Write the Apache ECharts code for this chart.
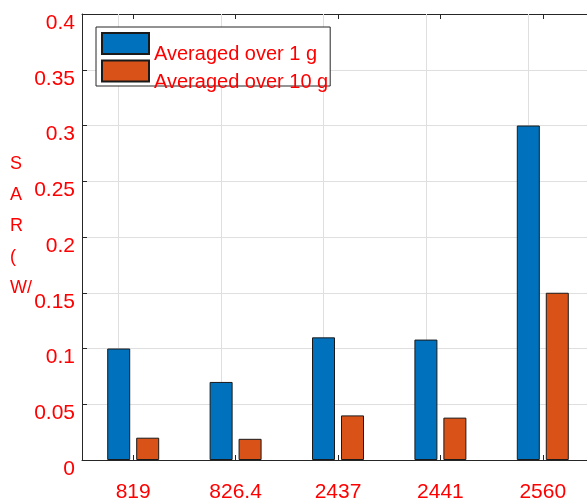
<!DOCTYPE html>
<html><head><meta charset="utf-8">
<script src="https://cdn.jsdelivr.net/npm/echarts@6/dist/echarts.min.js"></script>
<style>html,body{margin:0;padding:0;background:#fff}#c{width:587px;height:500px}</style>
</head><body><div id="c"></div>
<script>
const categories = ['819', '826.4', '2437', '2441', '2560'];
const sar1g = [0.100, 0.070, 0.110, 0.108, 0.300];
const sar10g = [0.020, 0.019, 0.040, 0.038, 0.150];
const seriesNames = ['Averaged over 1 g', 'Averaged over 10 g'];
const yMin = 0, yMax = 0.4, yStep = 0.05;
const yAxisTitle = 'S\nA\nR\n(\nW/';

const FONT = '"Liberation Sans", Arial, Helvetica, sans-serif';
const RED = '#ff0000';
const AX = '#262626';
const GRID = '#dfdfdf';

const chart = echarts.init(document.getElementById('c'), null, {renderer: 'canvas'});
chart.setOption({
  animation: false,
  backgroundColor: '#ffffff',
  textStyle: {fontFamily: FONT},
  grid: {left: 82, right: -7, top: 14, bottom: 40, containLabel: false, outerBoundsMode: 'none'},
  legend: {
    orient: 'vertical', left: 96, top: 27,
    padding: [5, 2, -6, 5],
    itemWidth: 47, itemHeight: 21, itemGap: -5,
    icon: 'rect',
    selectedMode: false,
    backgroundColor: '#ffffff',
    borderColor: AX, borderWidth: 1,
    formatter: '{a|{name}}',
    textStyle: {
      color: RED, fontSize: 20, fontFamily: FONT,
      rich: {a: {color: RED, fontSize: 20, fontFamily: FONT, lineHeight: 42, verticalAlign: 'bottom'}}
    },
    data: seriesNames
  },
  xAxis: [{
    type: 'category', data: categories, position: 'bottom',
    axisLine: {show: true, lineStyle: {color: AX, width: 1}},
    axisTick: {show: true, inside: true, length: 5, alignWithLabel: true, lineStyle: {color: AX}},
    axisLabel: {color: RED, fontSize: 21, fontFamily: FONT, margin: 22},
    splitLine: {show: false}
  }, {
    type: 'category', data: categories, position: 'top',
    axisLine: {show: true, lineStyle: {color: AX, width: 1}},
    axisTick: {show: true, inside: true, length: 5, alignWithLabel: true, lineStyle: {color: AX}},
    axisLabel: {show: false},
    splitLine: {show: false}
  }],
  yAxis: {
    type: 'value', min: yMin, max: yMax, interval: yStep,
    axisLine: {show: true, lineStyle: {color: AX, width: 1}},
    axisTick: {show: true, inside: true, length: 5, lineStyle: {color: AX}},
    axisLabel: {color: RED, fontSize: 21, fontFamily: FONT, margin: 7, verticalAlign: 'top', lineHeight: 18},
    splitLine: {show: true, lineStyle: {color: GRID, width: 1}}
  },
  graphic: [{
    type: 'text', left: 10, top: 149,
    style: {text: yAxisTitle, fill: RED, font: '18px ' + FONT, lineHeight: 31}
  }],
  series: [{
    name: seriesNames[0], type: 'bar', data: sar1g,
    barWidth: 23, barGap: '26%',
    itemStyle: {color: '#0072BD', borderColor: '#1a1a1a', borderWidth: 1},
    markLine: {
      silent: true, symbol: 'none', z: 1, animation: false,
      label: {show: false},
      lineStyle: {color: GRID, type: 'solid', width: 1},
      data: categories.map(c => ({xAxis: c}))
    }
  }, {
    name: seriesNames[1], type: 'bar', data: sar10g,
    barWidth: 23, barGap: '26%',
    itemStyle: {color: '#D95319', borderColor: '#1a1a1a', borderWidth: 1}
  }]
});
</script></body></html>
